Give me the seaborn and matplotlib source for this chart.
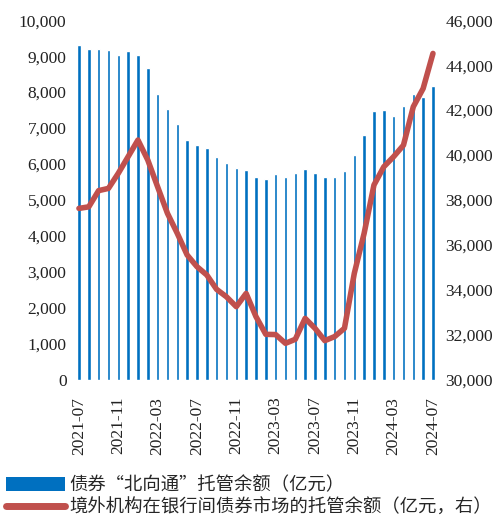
import numpy as np
import pandas as pd
import matplotlib
matplotlib.use("Agg")
import matplotlib.pyplot as plt
import seaborn as sns
from matplotlib.patches import Patch
from matplotlib.lines import Line2D

# === DONNÉES ===
months = pd.period_range("2021-07", "2024-07", freq="M").strftime("%Y-%m").tolist()
northbound = [9310, 9190, 9210, 9170, 9030, 9150, 9030, 8660, 7960, 7530,
              7110, 6670, 6530, 6460, 6200, 6020, 5880, 5830, 5630, 5580,
              5720, 5650, 5760, 5850, 5760, 5650, 5650, 5810, 6250, 6810,
              7470, 7500, 7330, 7610, 7960, 7870, 8180]
foreign_total = [37630, 37700, 38420, 38520, 39190, 39930, 40670, 39780, 38590, 37410,
                 36520, 35560, 35040, 34670, 34030, 33700, 33260, 33850, 32820, 32030,
                 32020, 31630, 31810, 32740, 32300, 31750, 31930, 32300, 34740, 36520,
                 38670, 39480, 39930, 40440, 42150, 42960, 44520]
tick_labels = months[::4]

bar_label = "债券“北向通”托管余额（亿元）"
line_label = "境外机构在银行间债券市场的托管余额（亿元，右）"

BLUE = "#0070C0"
RED = "#C0504D"

df = pd.DataFrame({"month": months, "x": range(len(months)),
                   "north": northbound, "total": foreign_total})

sns.set_theme(style="white")
plt.rcParams["font.family"] = ["Liberation Serif", "Noto Sans CJK SC"]

fig = plt.figure(figsize=(4.97, 5.17), dpi=100)
ax = fig.add_axes([0.145, 0.265, 0.74, 0.696])

sns.barplot(data=df, x="month", y="north", color=BLUE, width=0.35,
            saturation=1, ax=ax)
ax.set_ylim(0, 10000)
ax.set_yticks(range(0, 10001, 1000))
ax.set_yticklabels([f"{v:,}" for v in range(0, 10001, 1000)], fontsize=12.5)
ax.set_xticks(range(0, len(months), 4))
ax.set_xticklabels(tick_labels, rotation=90, fontsize=12.5)
ax.set_xlim(-0.7, len(months) - 0.3)
ax.set_xlabel("")
ax.set_ylabel("")

ax2 = ax.twinx()
sns.lineplot(data=df, x="x", y="total", color=RED, linewidth=4, ax=ax2)
ax2.set_ylim(30000, 46000)
ax2.set_yticks(range(30000, 46001, 2000))
ax2.set_yticklabels([f"{v:,}" for v in range(30000, 46001, 2000)], fontsize=12.5)
ax2.set_ylabel("")
ax2.set_xlim(-0.7, len(months) - 0.3)

for a in (ax, ax2):
    for s in a.spines.values():
        s.set_visible(False)
    a.tick_params(length=0, pad=4, colors="#222222")
ax.tick_params(axis="x", pad=12)

handles = [Patch(facecolor=BLUE, edgecolor="none"),
           Line2D([0], [0], color=RED, linewidth=5, solid_capstyle="round")]
fig.legend(handles, [bar_label, line_label], loc="lower left",
           bbox_to_anchor=(-0.01, -0.02), frameon=False,
           prop={"family": ["Noto Sans CJK SC"], "size": 13.2},
           handlelength=3.2, handleheight=0.75, handletextpad=0.25,
           labelspacing=0.22, borderaxespad=0.2)

fig.savefig("out.png", dpi=100)
